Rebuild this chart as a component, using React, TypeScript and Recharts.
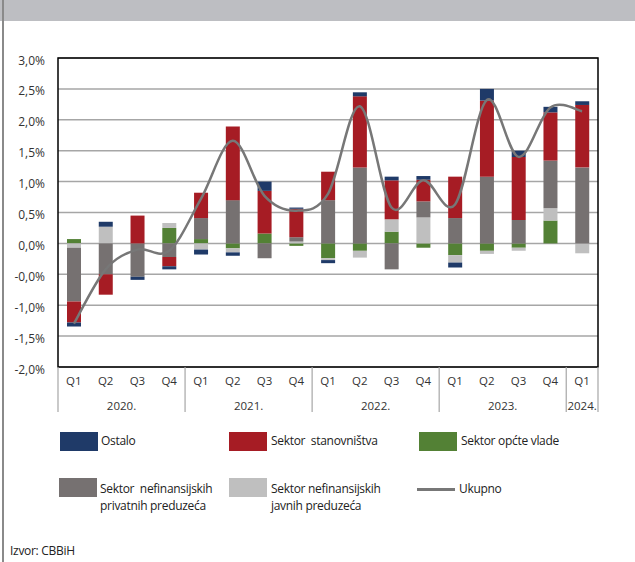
import React from 'react';
import {
  Bar,
  CartesianGrid,
  ComposedChart,
  Line,
  ReferenceArea,
  XAxis,
  YAxis,
} from 'recharts';

const quarters = ['Q1', 'Q2', 'Q3', 'Q4', 'Q1', 'Q2', 'Q3', 'Q4', 'Q1', 'Q2', 'Q3', 'Q4', 'Q1', 'Q2', 'Q3', 'Q4', 'Q1'];
const years = ['2020.', '2020.', '2020.', '2020.', '2021.', '2021.', '2021.', '2021.', '2022.', '2022.', '2022.', '2022.', '2023.', '2023.', '2023.', '2023.', '2024.'];

const opceVlade = [0.07, 0, 0, 0.25, 0.07, -0.08, 0.16, -0.04, -0.24, -0.12, 0.19, -0.07, -0.19, -0.12, -0.07, 0.37, 0];
const javnaPreduzeca = [-0.07, 0.27, 0, 0.08, -0.1, -0.065, 0, 0.03, -0.03, -0.11, 0.2, 0.42, -0.12, -0.05, -0.05, 0.2, -0.16];
const privatnaPreduzeca = [-0.87, -0.5, -0.54, -0.22, 0.34, 0.7, -0.24, 0.07, 0.7, 1.23, -0.42, 0.26, 0.41, 1.08, 0.38, 0.77, 1.23];
const stanovnistvo = [-0.34, -0.33, 0.45, -0.15, 0.41, 1.19, 0.69, 0.46, 0.46, 1.15, 0.63, 0.35, 0.67, 1.23, 1.02, 0.78, 1.01];
const ostalo = [-0.065, 0.08, -0.05, -0.05, -0.08, -0.055, 0.15, 0.02, -0.05, 0.065, 0.06, 0.06, -0.08, 0.19, 0.1, 0.09, 0.06];
const ukupno = [-1.3, -0.42, -0.1, -0.12, 0.72, 1.66, 0.77, 0.53, 0.8, 2.22, 0.58, 1.02, 0.63, 2.32, 1.4, 2.2, 2.14];

const yTicks = [-2, -1.5, -1, -0.5, 0, 0.5, 1, 1.5, 2, 2.5, 3];
const yTickLabels = ['-2,0%', '-1,5%', '-1,0%', '-0,0%', '0,0%', '0,5%', '1,0%', '1,5%', '2,0%', '2,5%', '3,0%'];

const data = quarters.map((q, i) => ({
  key: i,
  q,
  year: years[i],
  opceVlade: opceVlade[i],
  javna: javnaPreduzeca[i],
  privatna: privatnaPreduzeca[i],
  stanovnistvo: stanovnistvo[i],
  ostalo: ostalo[i],
  ukupno: ukupno[i],
}));

const C_NAVY = '#1F3A68';
const C_RED = '#A61C24';
const C_GREEN = '#538135';
const C_DGREY = '#767171';
const C_LGREY = '#BFBFBF';
const C_LINE = '#777777';
const FONT = "'Open Sans', sans-serif";

const PLOT_LEFT = 58;
const PLOT_RIGHT = 37;
const PLOT_W = 635 - PLOT_LEFT - PLOT_RIGHT;

// excel-style smoothed line (catmull-rom through the points)
const smoothCurve = (context: any) => {
  let pts: number[][] = [];
  return {
    areaStart() {},
    areaEnd() {},
    lineStart() {
      pts = [];
    },
    point(x: number, y: number) {
      pts.push([+x, +y]);
    },
    lineEnd() {
      if (!pts.length) return;
      context.moveTo(pts[0][0], pts[0][1]);
      for (let i = 0; i < pts.length - 1; i++) {
        const p0 = pts[i - 1] || pts[i];
        const p1 = pts[i];
        const p2 = pts[i + 1];
        const p3 = pts[i + 2] || pts[i + 1];
        context.bezierCurveTo(
          p1[0] + (p2[0] - p0[0]) / 6,
          p1[1] + (p2[1] - p0[1]) / 6,
          p2[0] - (p3[0] - p1[0]) / 6,
          p2[1] - (p3[1] - p1[1]) / 6,
          p2[0],
          p2[1]
        );
      }
    },
  };
};

const YTick = (props: any) => {
  const { x, y, payload } = props;
  const idx = yTicks.indexOf(payload.value);
  return (
    <text x={x} y={y + 2} textAnchor="end" dominantBaseline="central" fontSize={12} fill="#333" fontFamily={FONT}>
      {yTickLabels[idx]}
    </text>
  );
};

const XTick = (props: any) => {
  const { x, y, index } = props;
  const bw = PLOT_W / quarters.length;
  const startsYear = index === 0 || years[index] !== years[index - 1];
  const count = years.filter((yy) => yy === years[index]).length;
  const last = index === quarters.length - 1;
  return (
    <g>
      <text x={x} y={y + 13} textAnchor="middle" dominantBaseline="central" fontSize={11.5} fill="#333" fontFamily={FONT}>
        {quarters[index]}
      </text>
      {startsYear && (
        <>
          <line x1={x - bw / 2} x2={x - bw / 2} y1={y} y2={y + 45} stroke="#A6A6A6" strokeWidth={1.2} />
          <text x={x - bw / 2 + (count * bw) / 2} y={y + 38} textAnchor="middle" dominantBaseline="central" fontSize={11.5} fill="#333" fontFamily={FONT}>
            {years[index]}
          </text>
        </>
      )}
      {last && <line x1={x + bw / 2} x2={x + bw / 2} y1={y} y2={y + 45} stroke="#A6A6A6" strokeWidth={1.2} />}
    </g>
  );
};

const Swatch = ({ color, left, top }: { color: string; left: number; top: number }) => (
  <div style={{ position: 'absolute', left, top, width: 38, height: 19, background: color }} />
);

const Label = ({ left, top, children }: { left: number; top: number; children: React.ReactNode }) => (
  <div style={{ position: 'absolute', left, top, fontSize: 12, lineHeight: '17px', color: '#222', fontFamily: FONT, letterSpacing: -0.3 }}>
    {children}
  </div>
);

export default function App() {
  return (
    <div style={{ position: 'absolute', left: 0, top: 0, width: 635, height: 562, background: '#fff', overflow: 'hidden' }}>
      <div style={{ position: 'absolute', left: 0, top: 0, width: 635, height: 21, background: '#BDBEC2' }} />
      <div style={{ position: 'absolute', left: 2, top: 0, width: 1.5, height: 562, background: '#8A8A8A' }} />

      <div style={{ position: 'absolute', left: 0, top: 0 }}>
        <ComposedChart
          width={635}
          height={420}
          data={data}
          stackOffset="sign"
          barGap={0}
          margin={{ top: 58, right: PLOT_RIGHT, bottom: 0, left: 0 }}
        >
          <CartesianGrid vertical={false} stroke="#A6A6A6" strokeWidth={1.5} />
          <XAxis
            dataKey="key"
            type="category"
            height={53}
            axisLine={false}
            tickLine={false}
            tickSize={0}
            tickMargin={0}
            interval={0}
            tick={<XTick />}
          />
          <YAxis
            domain={[-2, 3]}
            ticks={yTicks}
            width={PLOT_LEFT}
            axisLine={false}
            tickLine={false}
            tickSize={0}
            tickMargin={13}
            interval={0}
            tick={<YTick />}
          />
          <Bar dataKey="opceVlade" stackId="a" fill={C_GREEN} barSize={14} isAnimationActive={false} />
          <Bar dataKey="javna" stackId="a" fill={C_LGREY} barSize={14} isAnimationActive={false} />
          <Bar dataKey="privatna" stackId="a" fill={C_DGREY} barSize={14} isAnimationActive={false} />
          <Bar dataKey="stanovnistvo" stackId="a" fill={C_RED} barSize={14} isAnimationActive={false} />
          <Bar dataKey="ostalo" stackId="a" fill={C_NAVY} barSize={14} isAnimationActive={false} />
          <Line
            dataKey="ukupno"
            type={smoothCurve as any}
            stroke={C_LINE}
            strokeWidth={2.5}
            dot={false}
            activeDot={false}
            isAnimationActive={false}
          />
          <ReferenceArea y1={-2} y2={3} fill="none" fillOpacity={0} stroke="#000" strokeWidth={1.5} ifOverflow="visible" />
        </ComposedChart>
      </div>

      <Swatch color={C_NAVY} left={60} top={432} />
      <Label left={101} top={432}>Ostalo</Label>
      <Swatch color={C_RED} left={229} top={432} />
      <Label left={271} top={432}>Sektor&nbsp; stanovništva</Label>
      <Swatch color={C_GREEN} left={419} top={432} />
      <Label left={461} top={432}>Sektor općte vlade</Label>

      <Swatch color={C_DGREY} left={59} top={478} />
      <Label left={100} top={480}>
        Sektor&nbsp; nefinansijskih
        <br />
        privatnih preduzeća
      </Label>
      <Swatch color={C_LGREY} left={229} top={478} />
      <Label left={271} top={480}>
        Sektor nefinansijskih
        <br />
        javnih preduzeća
      </Label>
      <div style={{ position: 'absolute', left: 417, top: 488, width: 38, height: 2.5, background: C_LINE }} />
      <Label left={459} top={480}>Ukupno</Label>

      <div style={{ position: 'absolute', left: 10, top: 542, fontSize: 12, color: '#222', fontFamily: FONT, letterSpacing: -0.3 }}>
        Izvor: CBBiH
      </div>
    </div>
  );
}
